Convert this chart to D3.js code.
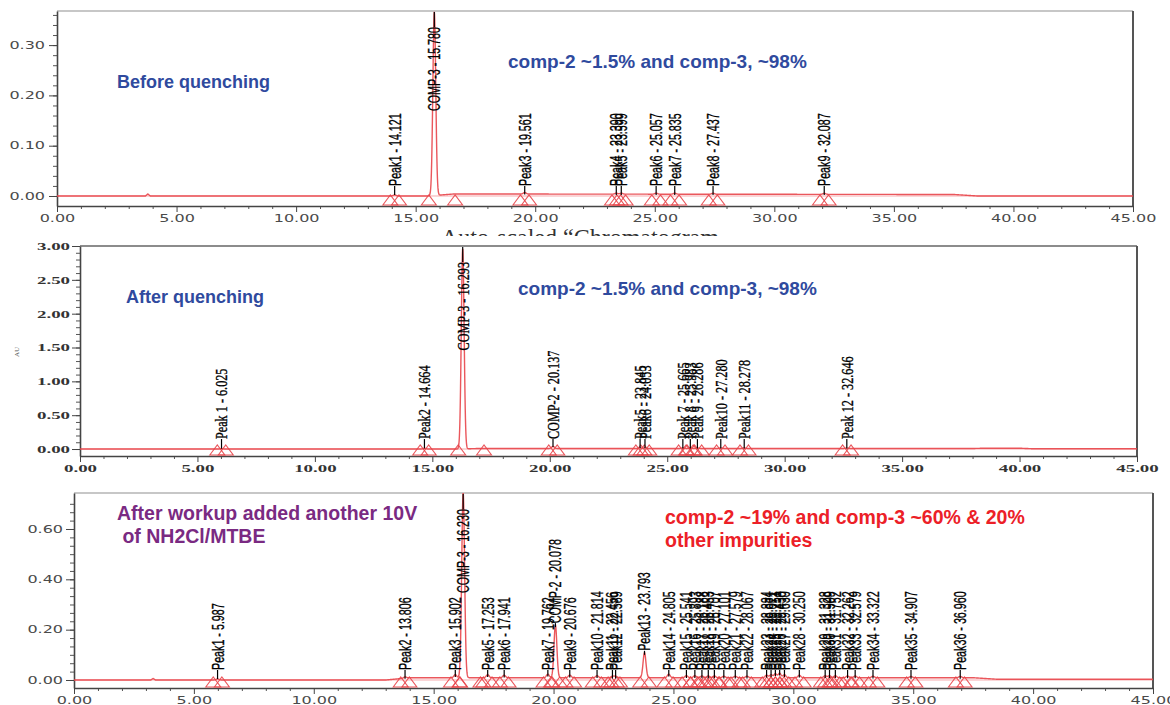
<!DOCTYPE html>
<html>
<head>
<meta charset="utf-8">
<script src="https://cdn.jsdelivr.net/npm/d3@7"></script>
<style>
  body { margin: 0; background: #fff; }
  svg { display: block; }
</style>
</head>
<body>
<svg id="chart" width="1170" height="705"></svg>
<script>
// ---------- shared axis ticks (retention time, min) ----------
const timeTicks = [0, 5, 10, 15, 20, 25, 30, 35, 40, 45];

// ---------- run 1: before quenching ----------
const run1Names   = ["Peak1", "COMP-3", "Peak3", "Peak4", "Peak5", "Peak6", "Peak7", "Peak8", "Peak9"];
const run1Times   = [14.121, 15.780, 19.561, 23.390, 23.599, 25.057, 25.835, 27.437, 32.087];
const run1Heights = [0.002, 0.365, 0.003, 0.002, 0.002, 0.002, 0.002, 0.002, 0.002];
const run1YTicks  = [0.00, 0.10, 0.20, 0.30];
const run1DriftT  = [0, 3.7, 3.8, 3.9, 15.5, 16.6, 37.5, 38.5, 45];
const run1DriftV  = [0, 0, 0.004, 0, 0, 0.004, 0.003, 0, 0];

// ---------- run 2: after quenching ----------
const run2Names   = ["Peak 1", "Peak2", "COMP-3", "COMP-2", "Peak5", "Peak6", "Peak 7", "Peak 8", "Peak 9", "Peak10", "Peak11", "Peak 12"];
const run2Times   = [6.025, 14.664, 16.293, 20.137, 23.845, 24.053, 25.665, 25.983, 26.286, 27.280, 28.278, 32.646];
const run2Heights = [0.005, 0.01, 2.96, 0.03, 0.01, 0.01, 0.008, 0.008, 0.008, 0.008, 0.008, 0.006];
const run2YTicks  = [0.00, 0.50, 1.00, 1.50, 2.00, 2.50, 3.00];
const run2DriftT  = [0, 16.0, 17.0, 38.0, 38.5, 40.0, 40.5, 45];
const run2DriftV  = [0, 0, 0.008, 0.008, 0.012, 0.012, 0.005, 0.005];

// ---------- run 3: after workup ----------
const run3Names = ["Peak1", "Peak2", "Peak3", "COMP-3", "Peak5", "Peak6", "Peak7", "COMP-2", "Peak9",
  "Peak10", "Peak11", "Peak12", "Peak13", "Peak14", "Peak15", "Peak16", "Peak17", "Peak18",
  "Peak19", "Peak20", "Peak21", "Peak22", "Peak23", "Peak24", "Peak25", "Peak26", "Peak27",
  "Peak28", "Peak29", "Peak30", "Peak31", "Peak32", "Peak33", "Peak34", "Peak35", "Peak36"];
const run3Times = [5.987, 13.806, 15.902, 16.230, 17.253, 17.941, 19.762, 20.078, 20.676,
  21.814, 22.456, 22.589, 23.793, 24.805, 25.541, 25.893, 26.188, 26.453,
  26.707, 27.101, 27.579, 28.067, 28.884, 29.071, 29.251, 29.430, 29.630,
  30.250, 31.328, 31.509, 31.752, 32.262, 32.579, 33.322, 34.907, 36.960];
const run3Heights = [0.004, 0.005, 0.012, 0.735, 0.012, 0.01, 0.014, 0.21, 0.01,
  0.008, 0.006, 0.006, 0.10, 0.014, 0.008, 0.008, 0.007, 0.007,
  0.007, 0.006, 0.006, 0.006, 0.01, 0.012, 0.016, 0.018, 0.012,
  0.01, 0.008, 0.008, 0.008, 0.007, 0.007, 0.006, 0.005, 0.005];
const run3YTicks = [0.00, 0.20, 0.40, 0.60];
const run3DriftT = [0, 3.2, 3.3, 3.4, 13.0, 14.0, 37.5, 38.5, 45];
const run3DriftV = [0, 0, 0.006, 0, 0, 0.009, 0.009, 0.003, 0.003];

// integration windows that differ from the default ±0.18 min
const run1Windows = { "COMP-3": [15.55, 16.65] };
const run2Windows = { "COMP-3": [16.10, 17.20] };
const run3Windows = { "COMP-3": [16.10, 16.95] };

const svg = d3.select("#chart");
const fmt2 = d3.format(".2f");
const traceColor = "#e8454a";

function buildTrace(times, heights, sigma, driftT, driftV) {
  const drift = d3.scaleLinear().domain(driftT).range(driftV).clamp(true);
  return d3.range(0, 4501).map(i => {
    const t = i / 100;
    let v = drift(t);
    times.forEach((c, k) => {
      const d = (t - c) / sigma;
      if (Math.abs(d) < 8) v += heights[k] * Math.exp(-0.5 * d * d);
    });
    return [t, v];
  });
}

function drawRun(cfg, idx) {
  const g = svg.append("g");
  const x = d3.scaleLinear().domain([0, 45]).range([cfg.left, cfg.right]);
  const y = d3.scaleLinear().domain([cfg.yMin, cfg.yMax]).range([cfg.bottom, cfg.top]);

  // frame: top edge and dark right edge
  g.append("line").attr("x1", cfg.left).attr("x2", cfg.right).attr("y1", cfg.top).attr("y2", cfg.top)
    .attr("stroke", cfg.topColor).attr("stroke-width", 1.6);
  g.append("line").attr("x1", cfg.right).attr("x2", cfg.right).attr("y1", cfg.top).attr("y2", cfg.bottom)
    .attr("stroke", "#555").attr("stroke-width", 2);

  // minor ticks
  const minorX = d3.range(0, 46).filter(d => d % 5 !== 0);
  g.append("g").attr("transform", `translate(0,${cfg.bottom})`)
    .call(d3.axisBottom(x).tickValues(minorX).tickSize(3).tickFormat(""))
    .call(s => s.select(".domain").remove())
    .attr("color", "#555");
  const minorY = d3.range(0, Math.round(cfg.yMinorMax / cfg.yMinorStep) + 1).map(i => i * cfg.yMinorStep);
  g.append("g").attr("transform", `translate(${cfg.left},0)`)
    .call(d3.axisLeft(y).tickValues(minorY).tickSize(4).tickFormat(""))
    .call(s => s.select(".domain").remove())
    .attr("color", "#555");

  // major axes
  const xa = g.append("g").attr("transform", `translate(0,${cfg.bottom})`)
    .call(d3.axisBottom(x).tickValues(timeTicks).tickSize(6).tickSizeOuter(0).tickPadding(3).tickFormat(fmt2))
    .attr("color", "#444");
  const ya = g.append("g").attr("transform", `translate(${cfg.left},0)`)
    .call(d3.axisLeft(y).tickValues(cfg.yTicks).tickSize(8).tickSizeOuter(0).tickFormat(fmt2))
    .attr("color", "#444");
  [xa, ya].forEach(a => {
    a.select(".domain").attr("stroke-width", 1.6);
    a.selectAll("text")
      .attr("font-family", cfg.axisFont)
      .attr("font-weight", cfg.axisWeight)
      .attr("font-size", cfg.axisSize)
      .attr("fill", cfg.axisColor);
  });
  xa.selectAll("text").attr("transform", `scale(${cfg.axisStretch},1)`);
  ya.selectAll("text").attr("x", -cfg.yLabelGap / cfg.axisStretch)
    .attr("transform", `scale(${cfg.axisStretch},1)`);

  // clip for the trace
  const clipId = "clip" + idx;
  svg.append("clipPath").attr("id", clipId).append("rect")
    .attr("x", cfg.left).attr("y", cfg.top).attr("width", cfg.right - cfg.left).attr("height", cfg.bottom - cfg.top);

  const plot = g.append("g").attr("clip-path", `url(#${clipId})`);

  // integration baseline
  plot.append("line").attr("x1", cfg.left).attr("x2", cfg.right).attr("y1", y(0)).attr("y2", y(0))
    .attr("stroke", traceColor).attr("stroke-opacity", 0.45).attr("stroke-width", 1);

  // detector trace
  const trace = buildTrace(cfg.times, cfg.heights, 0.06, cfg.driftT, cfg.driftV);
  plot.append("path").datum(trace)
    .attr("d", d3.line().x(d => x(d[0])).y(d => y(d[1])))
    .attr("fill", "none").attr("stroke", traceColor).attr("stroke-width", 1.4).attr("stroke-opacity", 0.9);

  // peak start / end markers
  const apexY = cfg.bottom - 11, baseY = cfg.bottom - 1;
  const marks = [];
  cfg.names.forEach((n, i) => {
    const w = cfg.windows[n] || [cfg.times[i] - 0.18, cfg.times[i] + 0.18];
    marks.push(w[0], w[1]);
  });
  g.append("g").selectAll("path").data(marks).join("path")
    .attr("d", t => `M${x(t) - 7.5},${baseY}L${x(t)},${apexY}L${x(t) + 7.5},${baseY}Z`)
    .attr("fill", "none").attr("stroke", traceColor).attr("stroke-width", 1.1).attr("stroke-opacity", 0.9);

  // peak labels
  const lab = g.append("g");
  cfg.names.forEach((n, i) => {
    const t = cfg.times[i], h = cfg.heights[i];
    const px = x(t);
    const text = `${n} - ${t.toFixed(3)}`;
    const tall = y(h) < cfg.top + 60;
    let anchor, ay, y1, y2;
    if (tall) {
      anchor = "end"; ay = cfg.top + 16; y1 = cfg.top + 1; y2 = ay;
    } else {
      anchor = "start"; ay = Math.min(y(0) - 10, y(h) - 4); y1 = Math.min(y(0), y(h)); y2 = ay;
    }
    lab.append("line").attr("x1", px).attr("x2", px).attr("y1", y1).attr("y2", y2)
      .attr("stroke", "#000").attr("stroke-width", 1.2);
    lab.append("text")
      .attr("transform", `translate(${px},${ay}) rotate(-90) scale(${cfg.labelStretch},1)`)
      .attr("text-anchor", anchor)
      .attr("dy", "0.36em")
      .attr("font-family", cfg.labelFont)
      .attr("font-size", cfg.labelSize)
      .attr("fill", "#000")
      .attr("stroke", "#000")
      .attr("stroke-width", 0.35)
      .text(text);
  });
  return { x, y, g };
}

const sansAxis = { axisFont: "DejaVu Sans", axisWeight: "normal", axisSize: 10, axisColor: "#4a4a4a", axisStretch: 1.6 };

// run 1
drawRun(Object.assign({
  left: 57, right: 1133, top: 11, bottom: 206, yMin: -0.0199, yMax: 0.3678,
  yTicks: run1YTicks, yMinorStep: 0.02, yMinorMax: 0.36, yLabelGap: 12,
  topColor: "#b5b5b5",
  names: run1Names, times: run1Times, heights: run1Heights, driftT: run1DriftT, driftV: run1DriftV,
  windows: run1Windows, labelFont: "Liberation Sans", labelSize: 16.5, labelStretch: 0.65
}, sansAxis), 1);

// partially covered title of the next chromatogram
svg.append("clipPath").attr("id", "titleClip").append("rect")
  .attr("x", 0).attr("y", 224).attr("width", 1170).attr("height", 12);
svg.append("text").attr("clip-path", "url(#titleClip)")
  .attr("x", 580).attr("y", 245).attr("text-anchor", "middle")
  .attr("font-family", "Liberation Serif").attr("font-size", 24).attr("fill", "#333")
  .text("Auto-scaled \u201CChromatogram");

// run 2
drawRun({
  left: 80, right: 1137, top: 246, bottom: 456, yMin: -0.103, yMax: 3.0,
  yTicks: run2YTicks, yMinorStep: 0.1, yMinorMax: 3.0, yLabelGap: 10,
  topColor: "#666",
  axisFont: "Liberation Serif", axisWeight: "bold", axisSize: 10.5, axisColor: "#333", axisStretch: 1.8,
  names: run2Names, times: run2Times, heights: run2Heights, driftT: run2DriftT, driftV: run2DriftV,
  windows: run2Windows, labelFont: "Liberation Serif", labelSize: 16.5, labelStretch: 0.74
}, 2);

svg.append("text").attr("transform", "translate(19,352) rotate(-90)")
  .attr("text-anchor", "middle").attr("font-family", "Liberation Serif")
  .attr("font-size", 7).attr("fill", "#555").text("AU");

// run 3
drawRun(Object.assign({
  left: 74, right: 1153, top: 493, bottom: 688, yMin: -0.0318, yMax: 0.743,
  yTicks: run3YTicks, yMinorStep: 0.2 / 6, yMinorMax: 0.71, yLabelGap: 11,
  topColor: "#b5b5b5",
  names: run3Names, times: run3Times, heights: run3Heights, driftT: run3DriftT, driftV: run3DriftV,
  windows: run3Windows, labelFont: "Liberation Sans", labelSize: 16.5, labelStretch: 0.65
}, sansAxis), 3);

// annotations
const notes = [
  { x: 117, y: 88,  size: 18,   color: "#2f4a9e", text: "Before quenching" },
  { x: 508, y: 68,  size: 19,   color: "#2f4a9e", text: "comp-2 ~1.5% and comp-3, ~98%" },
  { x: 126, y: 303, size: 18,   color: "#2f4a9e", text: "After quenching" },
  { x: 518, y: 295, size: 19,   color: "#2f4a9e", text: "comp-2 ~1.5% and comp-3, ~98%" },
  { x: 117, y: 520, size: 19.5, color: "#7a2a82", text: "After workup added another 10V" },
  { x: 117, y: 543, size: 19.5, color: "#7a2a82", text: " of NH2Cl/MTBE" },
  { x: 665, y: 524, size: 19.5, color: "#ec2027", text: "comp-2 ~19% and comp-3 ~60% & 20%" },
  { x: 665, y: 547, size: 19.5, color: "#ec2027", text: "other impurities" }
];
svg.append("g").selectAll("text").data(notes).join("text")
  .attr("x", d => d.x).attr("y", d => d.y)
  .attr("font-family", "Liberation Sans").attr("font-weight", "bold")
  .attr("font-size", d => d.size).attr("fill", d => d.color)
  .attr("xml:space", "preserve").style("white-space", "pre")
  .text(d => d.text);
</script>
</body>
</html>
